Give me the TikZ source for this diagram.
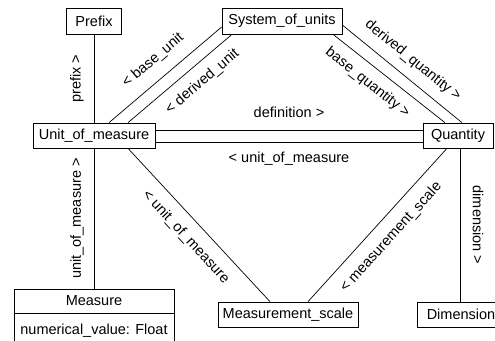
\documentclass[tikz,border=0pt]{standalone}
\usepackage{fontspec}
\setmainfont{Liberation Sans}
\begin{document}
\begin{tikzpicture}[x=1pt, y=-1pt, line width=0.7pt, %Escala em pixels
	caixa/.style={draw, fill=white, inner sep=0pt, font=\fontsize{14.5}{17}\selectfont},
	rotulo/.style={sloped, inner sep=0pt, font=\fontsize{14.5}{17}\selectfont}]
	\useasboundingbox (0,0) rectangle (495,340); %Margens
	%Caixas
	\node[caixa, minimum width=55pt, minimum height=26pt] (prefix) at (94,21) {Prefix};
	\node[caixa, minimum width=120pt, minimum height=26pt] (sys) at (282,21) {System\_of\_units};
	\node[caixa, minimum width=122pt, minimum height=25pt] (uom) at (94,135.5) {Unit\_of\_measure};
	\node[caixa, minimum width=70pt, minimum height=25pt] (qty) at (458,135.5) {Quantity};
	\node[caixa, minimum width=160pt, minimum height=24pt] (measure) at (94,301) {Measure};
	\node[caixa, minimum width=160pt, minimum height=34pt, anchor=north] (attr) at (measure.south) {numerical\_value: Float};
	\node[caixa, minimum width=140pt, minimum height=25pt] (ms) at (288,314.5) {Measurement\_scale};
	\node[caixa, minimum width=88pt, minimum height=25pt] (dim) at (461,314.5) {Dimension};
	%Ligações
	\draw (uom.north) -- (prefix.south) node[rotulo, midway, yshift=17pt] {prefix >};
	\draw (measure.north) -- (uom.south) node[rotulo, midway, yshift=17pt] {unit\_of\_measure >};
	\draw ([xshift=15pt]uom.north) -- ([yshift=-6pt]sys.west) node[rotulo, midway, yshift=19pt] {< base\_unit};
	\draw ([xshift=34pt]uom.north) -- ([xshift=-50pt]sys.south) node[rotulo, pos=0.61, yshift=-17pt] {< derived\_unit};
	\draw ([yshift=-4pt]sys.east) -- ([xshift=4pt]qty.north) node[rotulo, midway, yshift=17pt] {derived\_quantity >};
	\draw ([xshift=51pt]sys.south) -- ([xshift=-13pt]qty.north) node[rotulo, pos=0.4, yshift=-16.5pt] {base\_quantity >};
	\draw ([yshift=5.5pt]uom.east) -- ([yshift=5.5pt]qty.west) node[rotulo, midway, yshift=18pt] {definition >};
	\draw ([yshift=-6.5pt]uom.east) -- ([yshift=-6.5pt]qty.west) node[rotulo, midway, yshift=-17pt] {< unit\_of\_measure};
	\draw ([xshift=34pt]uom.south) -- ([xshift=-18pt]ms.north) node[rotulo, midway, yshift=-18pt] {< unit\_of\_measure};
	\draw ([xshift=20pt]ms.north) -- ([xshift=-11pt]qty.south) node[rotulo, midway, yshift=-18.4pt] {< measurement\_scale};
	\draw ([xshift=2pt]qty.south) -- ([xshift=2pt]qty.south |- dim.north) node[rotulo, midway, yshift=18pt] {dimension >};
\end{tikzpicture}
\end{document}
